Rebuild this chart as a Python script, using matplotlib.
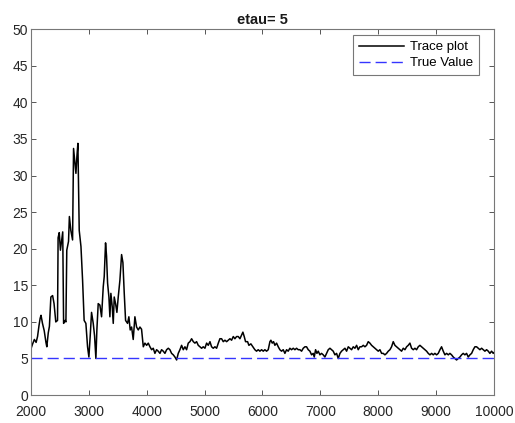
import matplotlib
matplotlib.use("Agg")
import matplotlib.pyplot as plt

plt.rcParams['font.family'] = ['Liberation Sans', 'DejaVu Sans']

# iterações e valores lidos do traço (amostras aproximadas)
iteracoes = [2000, 2030, 2060, 2090, 2115, 2140, 2160, 2175, 2200, 2230,
             2260, 2275, 2300, 2320, 2345, 2375, 2400, 2430, 2460, 2470,
             2490, 2510, 2530, 2550, 2565, 2590, 2605, 2620, 2650, 2665,
             2690, 2720, 2737, 2760, 2778, 2795, 2812, 2835, 2865, 2893,
             2920, 2950, 2979, 3002, 3025, 3048, 3077, 3100, 3123, 3140,
             3163, 3192, 3221, 3250, 3267, 3290, 3307, 3325, 3348, 3365,
             3382, 3405, 3423, 3440, 3463, 3486, 3509, 3538, 3567, 3590,
             3613, 3636, 3670, 3693, 3716, 3740, 3768, 3797, 3826, 3855,
             3884, 3912, 3942, 3970, 4000, 4028, 4057, 4086, 4114, 4143,
             4172, 4200, 4230, 4258, 4287, 4316, 4345, 4374, 4402, 4431,
             4460, 4489, 4518, 4546, 4575, 4604, 4633, 4662, 4690, 4719,
             4748, 4777, 4806, 4834, 4863, 4892, 4921, 4950, 4978, 5007,
             5036, 5065, 5094, 5122, 5151, 5180, 5209, 5238, 5266, 5295,
             5324, 5353, 5382, 5410, 5439, 5468, 5497, 5525, 5554, 5583,
             5612, 5640, 5663, 5686, 5709, 5744, 5767, 5801, 5836, 5870,
             5899, 5928, 5957, 5986, 6015, 6043, 6072, 6101, 6130, 6147,
             6170, 6193, 6216, 6245, 6274, 6302, 6331, 6360, 6389, 6418,
             6446, 6475, 6504, 6533, 6562, 6590, 6619, 6648, 6677, 6706,
             6735, 6763, 6792, 6821, 6850, 6878, 6896, 6919, 6942, 6965,
             6994, 7022, 7051, 7080, 7109, 7138, 7167, 7196, 7224, 7253,
             7282, 7311, 7340, 7368, 7397, 7426, 7455, 7484, 7512, 7541,
             7570, 7599, 7628, 7656, 7685, 7714, 7743, 7772, 7800, 7829,
             7858, 7887, 7916, 7944, 7973, 8002, 8031, 8060, 8088, 8117,
             8146, 8175, 8204, 8232, 8261, 8290, 8319, 8348, 8376, 8405,
             8434, 8463, 8492, 8520, 8549, 8578, 8607, 8636, 8664, 8693,
             8722, 8751, 8780, 8808, 8837, 8866, 8895, 8924, 8952, 8981,
             9010, 9039, 9068, 9096, 9125, 9154, 9183, 9212, 9240, 9269,
             9298, 9326, 9355, 9384, 9413, 9442, 9470, 9499, 9528, 9557,
             9586, 9615, 9643, 9672, 9701, 9730, 9759, 9788, 9816, 9845,
             9874, 9903, 9931, 9960, 9989, 10000]

valores = [6.3, 7.0, 7.6, 7.2, 8.0, 9.5, 10.5, 10.9, 9.8, 8.8,
           7.2, 6.6, 8.5, 9.4, 13.4, 13.6, 12.5, 10.0, 10.2, 21.5,
           22.2, 19.8, 21.0, 22.3, 9.8, 10.2, 10.0, 19.8, 21.0, 24.4,
           22.5, 21.2, 33.7, 31.7, 30.3, 32.6, 34.4, 22.5, 20.3, 15.7,
           10.2, 9.8, 6.6, 5.2, 8.1, 11.3, 9.8, 8.1, 5.0, 8.9,
           12.5, 12.3, 10.7, 14.8, 16.2, 20.8, 19.0, 15.3, 13.4, 10.7,
           13.9, 12.1, 9.8, 13.4, 12.5, 11.3, 13.4, 15.7, 19.2, 18.1,
           13.9, 10.2, 9.8, 10.7, 8.9, 9.3, 7.6, 10.7, 9.3, 8.9,
           9.3, 9.0, 6.6, 7.1, 6.8, 7.1, 6.6, 6.2, 6.4, 5.7,
           6.2, 6.0, 5.7, 6.2, 6.0, 5.7, 6.2, 6.4, 6.2, 5.7,
           5.5, 5.2, 4.8, 5.7, 6.2, 6.8, 6.2, 6.6, 6.2, 7.1,
           7.3, 7.7, 7.3, 7.1, 7.3, 6.8, 6.6, 6.4, 6.6, 6.4,
           7.1, 6.8, 7.3, 6.6, 6.4, 6.6, 6.4, 7.1, 7.7, 7.7,
           7.3, 7.5, 7.3, 7.5, 7.7, 7.5, 8.0, 7.7, 8.0, 8.0,
           7.7, 8.2, 8.6, 8.0, 7.3, 7.3, 6.8, 7.0, 6.6, 6.2,
           6.0, 6.2, 6.0, 6.2, 6.0, 6.2, 6.0, 6.2, 7.3, 7.5,
           7.1, 7.3, 6.8, 7.1, 6.6, 6.2, 6.0, 6.2, 5.7, 6.2,
           6.0, 6.4, 6.2, 6.4, 6.2, 6.4, 6.2, 6.2, 6.0, 6.4,
           6.6, 6.6, 6.2, 6.0, 5.5, 5.7, 5.2, 6.2, 5.7, 6.0,
           5.5, 5.7, 5.5, 5.2, 5.7, 6.2, 6.4, 6.2, 6.0, 5.5,
           5.7, 5.0, 5.7, 6.0, 6.2, 6.4, 6.0, 6.6, 6.4, 6.2,
           6.6, 6.4, 6.8, 6.2, 6.6, 6.6, 6.8, 6.6, 6.8, 7.3,
           7.1, 6.8, 6.6, 6.4, 6.2, 6.0, 6.2, 5.7, 5.7, 5.5,
           5.7, 6.0, 6.2, 6.6, 7.3, 6.8, 6.6, 6.4, 6.2, 6.0,
           6.4, 6.2, 6.6, 6.8, 7.1, 6.4, 6.2, 6.4, 6.2, 6.6,
           6.8, 6.6, 6.4, 6.2, 6.0, 5.7, 5.5, 5.7, 5.5, 5.7,
           5.5, 5.7, 6.2, 6.6, 6.0, 5.5, 5.7, 5.5, 5.7, 5.5,
           5.2, 5.0, 4.8, 5.0, 5.2, 5.5, 5.7, 5.5, 5.7, 5.2,
           5.5, 5.7, 6.2, 6.6, 6.6, 6.4, 6.2, 6.4, 6.2, 6.0,
           6.2, 6.0, 5.7, 6.0, 5.7, 5.8]

valor_real = 5
titulo = 'etau= 5'
xticks = list(range(2000, 10001, 1000))
yticks = list(range(0, 51, 5))

fig = plt.figure(figsize=(5.15, 4.23), dpi=100)
ax = fig.add_axes([0.060, 0.066, 0.899, 0.865])

ax.plot(iteracoes, valores, color='black', lw=1.1, label='Trace plot')
ax.plot([2000, 10000], [valor_real, valor_real], color='#3535ff', lw=1.0,
        dashes=(8, 3.6), label='True Value')

ax.set_xlim(2000, 10000)
ax.set_ylim(0, 50)
ax.set_xticks(xticks)
ax.set_yticks(yticks)
ax.tick_params(direction='in', top=True, right=True, length=3.5, width=0.7,
               color='#555555', labelsize=10, labelcolor='#262626', pad=2)
ax.tick_params(axis='x', pad=7)
for s in ax.spines.values():
    s.set_color('#777777')
    s.set_linewidth(0.8)

ax.set_title(titulo, fontsize=10.5, fontweight='bold', color='#1a1a1a', pad=4)

leg = ax.legend(loc='upper right', bbox_to_anchor=(0.968, 0.984), fontsize=9.5,
                fancybox=False, framealpha=1, edgecolor='#777777',
                handlelength=3.4, borderpad=0.45, labelspacing=0.3,
                handletextpad=0.45, borderaxespad=0)
leg.get_frame().set_linewidth(0.8)

fig.savefig('out.png', dpi=100)
